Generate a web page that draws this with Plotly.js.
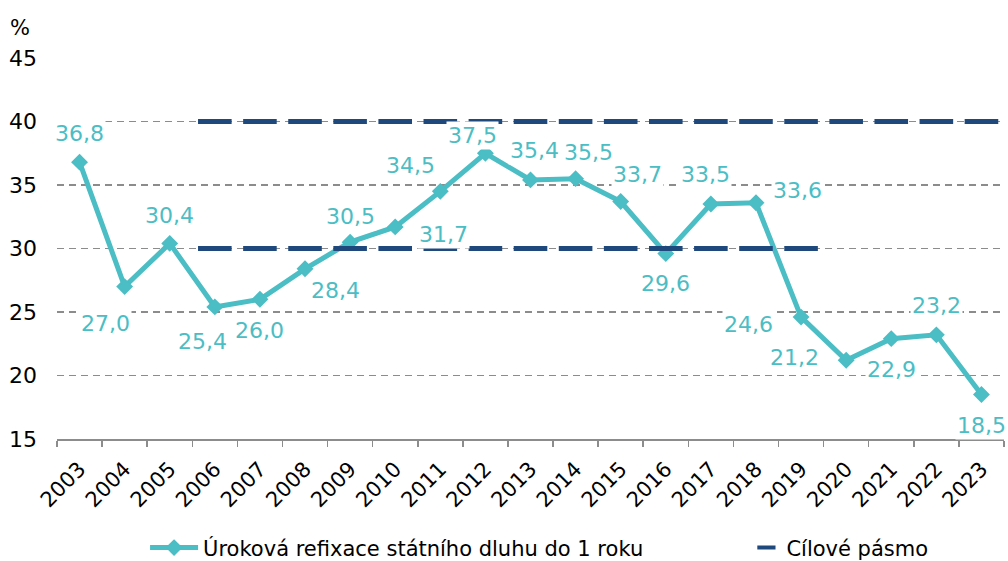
<!DOCTYPE html>
<html>
<head>
<meta charset="utf-8">
<script src="https://cdn.plot.ly/plotly-3.0.1.min.js"></script>
<style>
  html, body { margin: 0; padding: 0; background: #ffffff; }
  #chart { width: 1008px; height: 561px; }
</style>
</head>
<body>
<div id="chart"></div>
<script>
// ---- data ----
const years = ['2003','2004','2005','2006','2007','2008','2009','2010','2011','2012','2013',
               '2014','2015','2016','2017','2018','2019','2020','2021','2022','2023'];
const refixace = [36.8, 27.0, 30.4, 25.4, 26.0, 28.4, 30.5, 31.7, 34.5, 37.5, 35.4,
                  35.5, 33.7, 29.6, 33.5, 33.6, 24.6, 21.2, 22.9, 23.2, 18.5];
const bandUpperYears = ['2006','2007','2008','2009','2010','2011','2012','2013','2014','2015',
                        '2016','2017','2018','2019','2020','2021','2022','2023'];
const bandUpperValues = [40,40,40,40,40,40,40,40,40,40,40,40,40,40,40,40,40,40];
const bandLowerYears = ['2006','2007','2008','2009','2010','2011','2012','2013','2014','2015',
                        '2016','2017','2018','2019'];
const bandLowerValues = [30,30,30,30,30,30,30,30,30,30,30,30,30,30];
const seriesNames = ['Úroková refixace státního dluhu do 1 roku', 'Cílové pásmo'];
const yTicks = [15, 20, 25, 30, 35, 40, 45];

// label offsets (style, pixels): dx right, dy down
const labelDx = [0, -19, 0, -12, 0, 30, 0, 48, -30, -13, 4, 13, 17, 0, -5, 42, -53, -52, 0, 0, 0];
const labelDy = [-29, 37, -28, 35, 31, 22, -26, 8, -26, -18, -29, -26, -27, 30, -30, -12, 7, -3, 31, -29, 31];

const TEAL = '#4bbdc4';
const NAVY = '#1f497d';
const GRID = '#8c8c8c';
const FONT = 'DejaVu Sans, Verdana, sans-serif';

const fmt = v => v.toFixed(1).replace('.', ',');

const bandMarker = { symbol: 'line-ew', size: 24, color: NAVY, line: { color: NAVY, width: 5 } };

const traces = [
  {
    x: years, y: refixace, type: 'scatter', mode: 'lines+markers',
    name: seriesNames[0], legend: 'legend',
    line: { color: TEAL, width: 5 },
    marker: { symbol: 'diamond', size: 13, color: TEAL },
    hoverinfo: 'skip'
  },
  {
    x: bandUpperYears, y: bandUpperValues, type: 'scatter', mode: 'markers',
    name: seriesNames[1], showlegend: false,
    marker: bandMarker, hoverinfo: 'skip'
  },
  {
    x: bandLowerYears, y: bandLowerValues, type: 'scatter', mode: 'markers',
    name: seriesNames[1], showlegend: false,
    marker: bandMarker, hoverinfo: 'skip'
  },
  {
    // legend entry only (shorter dash symbol, as in the reference legend)
    x: [null], y: [null], type: 'scatter', mode: 'markers',
    name: seriesNames[1], legend: 'legend2', showlegend: true,
    marker: { symbol: 'line-ew', size: 13, color: NAVY, line: { color: NAVY, width: 4 } },
    hoverinfo: 'skip'
  }
];

// data labels: x given as category index so numeric-looking names are not misread
const annotations = years.map((yr, i) => ({
  x: i, y: refixace[i], xref: 'x', yref: 'y',
  xanchor: 'center', yanchor: 'middle',
  text: fmt(refixace[i]), showarrow: false,
  xshift: labelDx[i], yshift: -labelDy[i],
  font: { family: FONT, size: 22, color: TEAL },
  bgcolor: '#ffffff', borderpad: 1
}));
annotations.push({
  x: -0.039, y: 1.079, xref: 'paper', yref: 'paper',
  xanchor: 'center', yanchor: 'middle',
  text: '%', showarrow: false,
  font: { family: FONT, size: 21, color: '#000000' }
});

const legendCommon = {
  orientation: 'h', yanchor: 'middle', y: -0.286, xanchor: 'left',
  font: { family: FONT, size: 21, color: '#000000' },
  bgcolor: 'rgba(0,0,0,0)', borderwidth: 0
};

const layout = {
  width: 1008, height: 561,
  margin: { l: 57, r: 4, t: 58, b: 122, autoexpand: false },
  paper_bgcolor: '#ffffff', plot_bgcolor: '#ffffff',
  font: { family: FONT, size: 20, color: '#000000' },
  showlegend: true,
  legend: Object.assign({}, legendCommon, { x: 0.093, itemwidth: 48 }),
  legend2: Object.assign({}, legendCommon, { x: 0.728, itemwidth: 30 }),
  xaxis: {
    type: 'category', range: [-0.5, 20.5], automargin: false,
    showgrid: false, zeroline: false,
    showline: true, linecolor: GRID, linewidth: 1.5,
    ticks: 'outside', ticklen: 6, tickcolor: GRID, tickwidth: 1.5,
    tickson: 'boundaries', tickangle: -45, ticklabelstandoff: 8,
    tickfont: { family: FONT, size: 21, color: '#000000' },
    fixedrange: true
  },
  yaxis: {
    range: [15, 45], tickvals: yTicks, ticktext: yTicks.map(String), automargin: false,
    showgrid: true, gridcolor: GRID, gridwidth: 1.5, griddash: '7px,5px',
    zeroline: false, showline: false, ticks: '',
    ticklabelstandoff: 19,
    tickfont: { family: FONT, size: 22, color: '#000000' },
    fixedrange: true
  },
  annotations: annotations
};

Plotly.newPlot('chart', traces, layout, { displayModeBar: false, staticPlot: true });
</script>
</body>
</html>
